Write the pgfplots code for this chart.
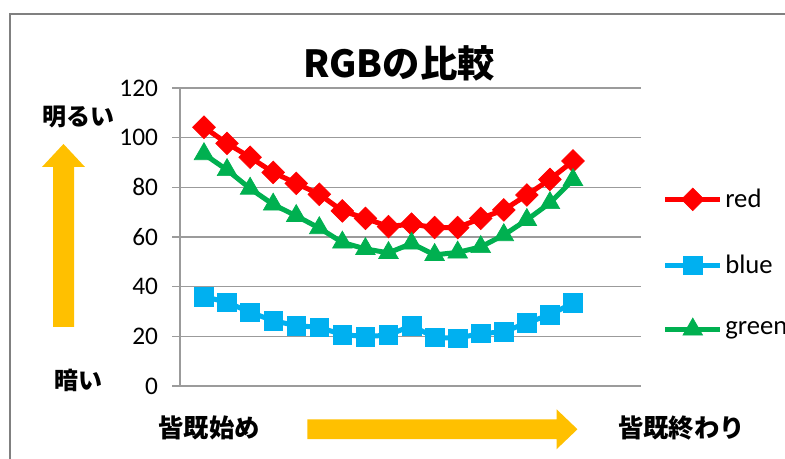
\documentclass[border=0pt]{standalone}
\usepackage{pgfplots}
\pgfplotsset{compat=1.18}
\usepackage{fontspec}
\setmainfont{Carlito}
\newfontfamily\cjk{Noto Sans CJK JP}
\definecolor{cred}{RGB}{255,0,0}
\definecolor{cblue}{RGB}{0,176,240}
\definecolor{cgreen}{RGB}{0,176,80}
\definecolor{carrow}{RGB}{255,192,0}
\definecolor{gridc}{RGB}{155,155,155}
\definecolor{framec}{RGB}{128,128,128}
\begin{document}
\begin{tikzpicture}[x=1pt,y=1pt]
\useasboundingbox (0,0) rectangle (588.75,344.25);
\fill[white] (0,0) rectangle (588.75,344.25);
\draw[framec, line width=1.5pt] (7.5,-2) -- (7.5,333.75) -- (592,333.75);
\begin{axis}[at={(135pt,54.75pt)}, anchor=south west, scale only axis,
  width=345.75pt, height=223.5pt,
  xmin=-1.04, xmax=18.95, ymin=0, ymax=120,
  ytick={0,20,...,120}, xtick=\empty,
  axis x line*=bottom, axis y line*=left,
  axis line style={gridc, line width=1pt, -},
  ymajorgrids, grid style={gridc, line width=1pt},
  tick align=outside, major tick length=6pt,
  ytick style={gridc, line width=1pt},
  yticklabel style={font=\fontsize{19}{19}\selectfont, xshift=-7pt},
  /pgf/number format/assume math mode=true,
  clip=false,
  legend style={at={(1.047,0.4128)}, anchor=west, draw=none, fill=none, inner sep=0pt,
    row sep=30pt, font=\fontsize{20}{20}\selectfont, cells={anchor=west}},
  legend cell align=left,
  legend image code/.code={\draw[#1] (0pt,0pt) -- (41pt,0pt);
    \draw[#1,mark repeat=2,mark phase=2] plot coordinates {(0pt,0pt)(20.5pt,0pt)(41pt,0pt)};},
]
\addplot[cred, line width=3.75pt, mark=square*, mark size=6pt, mark options={solid, rotate=45, line width=0.5pt}] coordinates {
(0,104.2)(1,97.7)(2,92.1)(3,86.0)(4,81.6)(5,77.2)(6,70.5)(7,67.5)(8,64.2)(9,65.2)(10,63.8)(11,63.8)(12,67.5)(13,70.9)(14,76.9)(15,83.2)(16,90.6)};
\addlegendentry{red}
\addplot[cblue, line width=3.75pt, mark=square*, mark size=7pt, mark options={solid, line width=0.5pt}] coordinates {
(0,36.0)(1,33.7)(2,29.7)(3,26.3)(4,24.3)(5,23.6)(6,20.7)(7,19.9)(8,20.5)(9,24.3)(10,19.6)(11,19.2)(12,21.2)(13,21.7)(14,25.5)(15,28.6)(16,33.5)};
\addlegendentry{blue}
\addplot[cgreen, line width=3.75pt, mark=triangle*, mark size=8.5pt, mark options={solid, line width=0.5pt}] coordinates {
(0,93.4)(1,87.0)(2,79.5)(3,73.1)(4,68.5)(5,63.6)(6,57.8)(7,55.2)(8,53.6)(9,57.4)(10,52.8)(11,53.8)(12,56.0)(13,60.8)(14,66.9)(15,73.7)(16,83.0)};
\addlegendentry{green}
\end{axis}
\fill[carrow] (39.75,99) -- (55.5,99) -- (55.5,219) -- (63.75,219) -- (47.6,236.25) -- (31.5,219) -- (39.75,219) -- cycle;
\fill[carrow] (230.6,14.9) -- (417.4,14.9) -- (417.4,7.3) -- (433.1,22.3) -- (417.4,37.3) -- (417.4,29.7) -- (230.6,29.7) -- cycle;
\node[font=\cjk\bfseries\fontsize{28}{28}\selectfont] at (299.25,297) {RGBの比較};
\node[font=\cjk\bfseries\fontsize{18}{18}\selectfont] at (58.9,256.5) {明るい};
\node[font=\cjk\bfseries\fontsize{18}{18}\selectfont] at (58.5,59.25) {暗い};
\node[font=\cjk\bfseries\fontsize{19}{19}\selectfont] at (156.75,23.5) {皆既始め};
\node[font=\cjk\bfseries\fontsize{19}{19}\selectfont] at (511.1,23.5) {皆既終わり};
\end{tikzpicture}
\end{document}
